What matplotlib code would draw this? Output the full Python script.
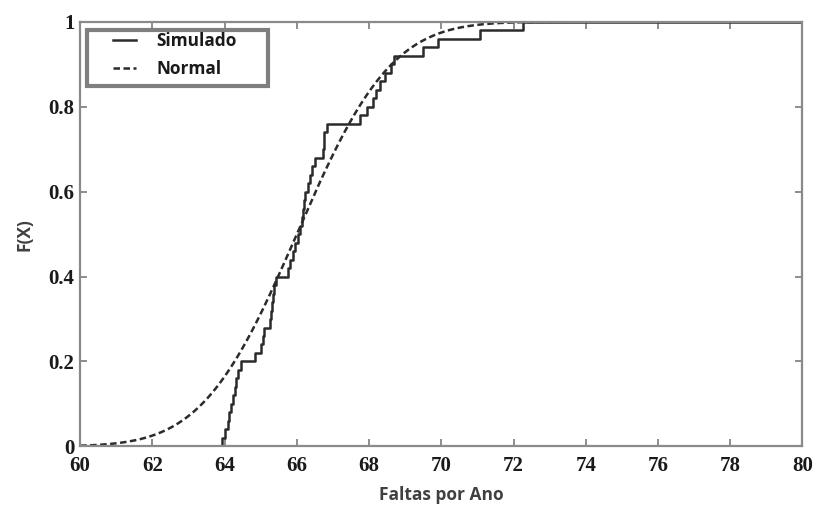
import numpy as np
import matplotlib
matplotlib.use("Agg")
import matplotlib.pyplot as plt
from matplotlib.patches import Rectangle
from math import erf, sqrt

# Simulated annual fault counts (sorted sample, 50 runs)
simulado = [63.92, 64.00, 64.08, 64.12, 64.18, 64.22, 64.28, 64.32, 64.38, 64.45,
            64.85, 65.02, 65.05, 65.08, 65.26, 65.29, 65.32, 65.35, 65.38, 65.42,
            65.76, 65.82, 65.88, 65.95, 66.02, 66.08, 66.13, 66.16, 66.19, 66.22,
            66.30, 66.36, 66.42, 66.50, 66.72, 66.74, 66.76, 66.84, 67.75, 67.95,
            68.10, 68.20, 68.30, 68.45, 68.62, 68.68, 69.50, 69.90, 71.08, 72.27]

# fitted normal
media = 66.0
desvio = 2.05

x_ticks = [60, 62, 64, 66, 68, 70, 72, 74, 76, 78, 80]
y_ticks = [0, 0.2, 0.4, 0.6, 0.8, 1]
y_ticklabels = ["0", "0.2", "0.4", "0.6", "0.8", "1"]

# empirical cdf as steps
xs = np.sort(np.array(simulado))
n = len(xs)
fx = np.arange(1, n + 1) / n
step_x = np.concatenate([[xs[0]], xs, [80]])
step_y = np.concatenate([[0], fx, [1]])

xn = np.linspace(60, 80, 400)
yn = np.array([0.5 * (1 + erf((v - media) / (desvio * sqrt(2)))) for v in xn])

fig = plt.figure(figsize=(8.18, 5.05), dpi=100)
ax = fig.add_axes([0.098, 0.116, 0.883, 0.841])

ax.step(step_x, step_y, where="post", color="#2b2b2b", lw=1.8, label="Simulado")
ax.plot(xn, yn, color="#2b2b2b", lw=1.8, linestyle=(0, (2.6, 1.4)), label="Normal")

ax.set_xlim(60, 80)
ax.set_ylim(0, 1)
ax.set_xticks(x_ticks)
ax.set_yticks(y_ticks)
ax.set_yticklabels(y_ticklabels)

for lab in ax.get_xticklabels() + ax.get_yticklabels():
    lab.set_fontfamily("Liberation Serif")
    lab.set_fontweight("bold")
    lab.set_fontsize(15)

ax.tick_params(direction="in", length=5, width=1.2, color="#7a7a7a",
               top=True, right=True, labelcolor="#1a1a1a")
ax.tick_params(axis="x", pad=7)
ax.tick_params(axis="y", pad=4)
for sp in ax.spines.values():
    sp.set_color("#8a8a8a")
    sp.set_linewidth(1.6)

ax.set_xlabel("Faltas por Ano", fontfamily="Open Sans", fontweight="bold",
              fontsize=12.5, color="#404040", labelpad=7)
ax.set_ylabel("F(X)", fontfamily="Open Sans", fontweight="bold",
              fontsize=12.5, color="#404040", labelpad=11)

# legend box drawn separately so the padding can be wider at the sides
box = Rectangle((0.0097, 0.849), 0.25, 0.132, transform=ax.transAxes,
                facecolor="white", edgecolor="#7f7f7f", lw=3, zorder=4)
ax.add_patch(box)
leg = ax.legend(loc="upper left", bbox_to_anchor=(0.046, 0.975),
                prop={"family": "Open Sans", "weight": "bold", "size": 12.4},
                frameon=False, handlelength=1.3, handletextpad=1.2,
                borderpad=0, labelspacing=0.55, borderaxespad=0)
leg.set_zorder(5)
for t in leg.get_texts():
    t.set_color("#1a1a1a")

fig.savefig("out.png", dpi=100)
